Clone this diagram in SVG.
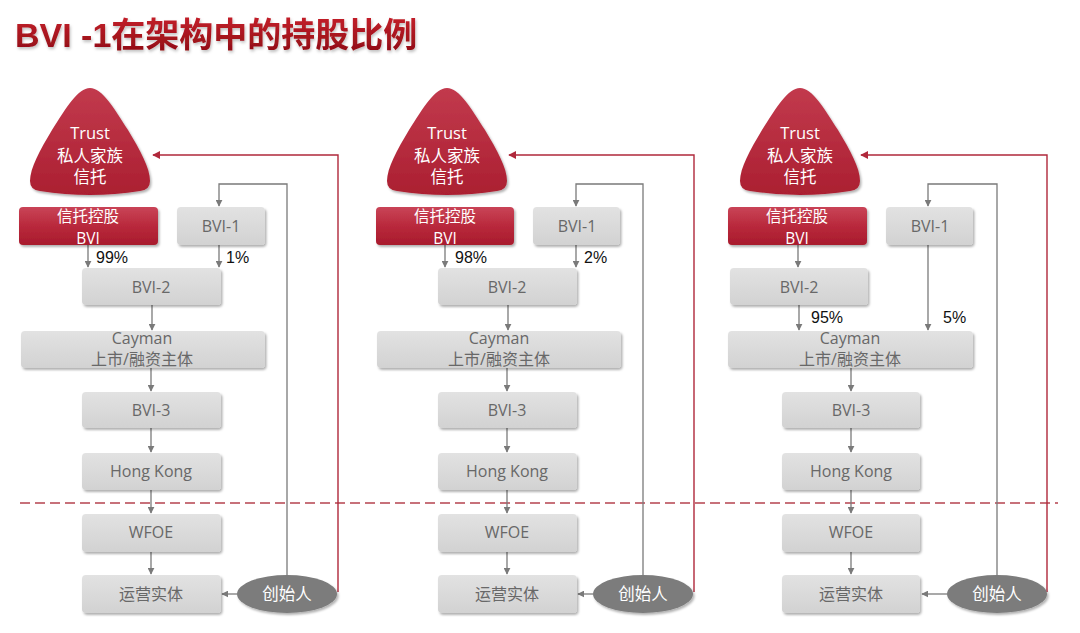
<svg xmlns="http://www.w3.org/2000/svg" width="1080" height="633" viewBox="0 0 1080 633">
<defs>
<linearGradient id="gGrey" x1="0" y1="0" x2="0" y2="1">
<stop offset="0" stop-color="#e2e2e2"/><stop offset="1" stop-color="#d2d2d2"/>
</linearGradient>
<linearGradient id="gRed" x1="0" y1="0" x2="0" y2="1">
<stop offset="0" stop-color="#c94457"/><stop offset="0.5" stop-color="#b9293c"/><stop offset="1" stop-color="#a81b2d"/>
</linearGradient>
<linearGradient id="gTri" x1="0" y1="0" x2="0" y2="1">
<stop offset="0" stop-color="#c23a4d"/><stop offset="1" stop-color="#ab1f31"/>
</linearGradient>
<linearGradient id="gTitle" x1="0" y1="0" x2="0" y2="1">
<stop offset="0" stop-color="#c4202a"/><stop offset="1" stop-color="#8e0d15"/>
</linearGradient>
<filter id="sh" x="-10%" y="-20%" width="125%" height="150%">
<feDropShadow dx="1.5" dy="2" stdDeviation="1.3" flood-color="#000" flood-opacity="0.3"/>
</filter>
<filter id="tsh" x="-5%" y="-20%" width="110%" height="160%">
<feDropShadow dx="1" dy="2" stdDeviation="1.5" flood-color="#000" flood-opacity="0.25"/>
</filter>
<marker id="ag" viewBox="0 0 10 10" refX="9" refY="5" markerWidth="7" markerHeight="7" markerUnits="userSpaceOnUse" orient="auto">
<path d="M0,0 L10,5 L0,10 Z" fill="#7a7a7a"/>
</marker>
<marker id="ar" viewBox="0 0 10 10" refX="9" refY="5" markerWidth="8" markerHeight="8" markerUnits="userSpaceOnUse" orient="auto">
<path d="M0,0 L10,5 L0,10 Z" fill="#b0283b"/>
</marker>
</defs>
<style>
.box{fill:url(#gGrey);filter:url(#sh)}
.rbox{fill:url(#gRed);filter:url(#sh)}
.tri{fill:url(#gTri);filter:url(#sh)}
.fo{fill:#7b7b7b;filter:url(#sh)}
.t{font-family:"Open Sans","Noto Sans CJK SC",sans-serif;font-size:16px;fill:#686868;text-anchor:middle}
.w{font-family:"Open Sans","Noto Sans CJK SC",sans-serif;font-size:16.5px;fill:#ffffff;text-anchor:middle}
.hw{font-family:"Open Sans","Noto Sans CJK SC",sans-serif;font-size:15.5px;fill:#ffffff;text-anchor:middle}
.p{font-family:"Liberation Sans",Arial,sans-serif;font-size:16px;fill:#111111}
.c{fill:none;stroke:#7a7a7a;stroke-width:1.3}
.r{fill:none;stroke:#b0283b;stroke-width:1.4}
.d{fill:none;stroke:#b5434f;stroke-width:1.3;stroke-dasharray:10 5}
.title{font-family:"Liberation Sans","Noto Sans CJK SC",sans-serif;font-size:34px;font-weight:bold;fill:url(#gTitle);filter:url(#tsh)}
</style>
<rect width="1080" height="633" fill="#ffffff"/>
<text class="title" x="15" y="47">BVI -1在架构中的持股比例</text>

<!-- connectors -->
<g id="connectors">
<line class="d" x1="20" y1="503" x2="1058" y2="503"/>
<!-- column 1 -->
<path class="c" marker-end="url(#ag)" d="M88,245 V267"/>
<path class="c" marker-end="url(#ag)" d="M219,245 V267"/>
<path class="c" marker-end="url(#ag)" d="M152,305 V330"/>
<path class="c" marker-end="url(#ag)" d="M151,368 V391"/>
<path class="c" marker-end="url(#ag)" d="M151,428 V452"/>
<path class="c" marker-end="url(#ag)" d="M151,490 V513"/>
<path class="c" marker-end="url(#ag)" d="M151,552 V574"/>
<path class="c" marker-end="url(#ag)" d="M237,594 H222"/>
<path class="c" marker-end="url(#ag)" d="M287,575 V184 H219 V206"/>
<path class="r" marker-end="url(#ar)" d="M338,592 V155 H153"/>
<!-- column 2 -->
<path class="c" marker-end="url(#ag)" d="M445,245 V267"/>
<path class="c" marker-end="url(#ag)" d="M576,245 V267"/>
<path class="c" marker-end="url(#ag)" d="M508,305 V330"/>
<path class="c" marker-end="url(#ag)" d="M507,368 V391"/>
<path class="c" marker-end="url(#ag)" d="M507,428 V452"/>
<path class="c" marker-end="url(#ag)" d="M507,490 V513"/>
<path class="c" marker-end="url(#ag)" d="M507,552 V574"/>
<path class="c" marker-end="url(#ag)" d="M593,594 H578"/>
<path class="c" marker-end="url(#ag)" d="M643,575 V184 H576 V206"/>
<path class="r" marker-end="url(#ar)" d="M694,592 V155 H509"/>
<!-- column 3 -->
<path class="c" marker-end="url(#ag)" d="M798,245 V267"/>
<path class="c" marker-end="url(#ag)" d="M799,305 V330"/>
<path class="c" marker-end="url(#ag)" d="M928,245 V330"/>
<path class="c" marker-end="url(#ag)" d="M851,368 V391"/>
<path class="c" marker-end="url(#ag)" d="M851,428 V452"/>
<path class="c" marker-end="url(#ag)" d="M851,490 V513"/>
<path class="c" marker-end="url(#ag)" d="M851,552 V574"/>
<path class="c" marker-end="url(#ag)" d="M947,594 H922"/>
<path class="c" marker-end="url(#ag)" d="M997,575 V184 H928 V206"/>
<path class="r" marker-end="url(#ar)" d="M1047,592 V155 H861"/>
<!-- percentages -->
<text class="p" x="96" y="263">99%</text>
<text class="p" x="226" y="263">1%</text>
<text class="p" x="455" y="263">98%</text>
<text class="p" x="584" y="263">2%</text>
<text class="p" x="811" y="323">95%</text>
<text class="p" x="943" y="323">5%</text>
</g>

<!-- column 1 nodes -->
<g id="trust1"><path class="tri" d="M90,88 C102,88 114,108 128,130 C140,150 150,168 150,181 Q150,190 140,191 Q90,199 40,191 Q30,190 30,181 C30,168 40,150 52,130 C66,108 78,88 90,88 Z"/>
<text class="w" x="90" y="139">Trust</text><text class="w" x="90" y="162">私人家族</text><text class="w" x="90" y="183">信托</text></g>
<g id="hold1"><rect class="rbox" x="19" y="207" width="139" height="38" rx="4"/>
<text class="hw" x="88" y="222">信托控股</text><text class="hw" x="88" y="244">BVI</text></g>
<g id="bvi1_1"><rect class="box" x="177" y="207" width="88" height="38" rx="4"/><text class="t" x="221" y="232">BVI-1</text></g>
<g id="bvi2_1"><rect class="box" x="82" y="268" width="139" height="37" rx="4"/><text class="t" x="151" y="293">BVI-2</text></g>
<g id="cayman1"><rect class="box" x="21" y="331" width="244" height="37" rx="4"/>
<text class="t" x="142" y="344">Cayman</text><text class="t" x="142" y="365">上市/融资主体</text></g>
<g id="bvi3_1"><rect class="box" x="82" y="392" width="139" height="36" rx="4"/><text class="t" x="151" y="416">BVI-3</text></g>
<g id="hk1"><rect class="box" x="82" y="453" width="139" height="37" rx="4"/><text class="t" x="151" y="477">Hong Kong</text></g>
<g id="wfoe1"><rect class="box" x="82" y="514" width="139" height="38" rx="4"/><text class="t" x="151" y="538">WFOE</text></g>
<g id="op1"><rect class="box" x="82" y="575" width="139" height="38" rx="4"/><text class="t" x="151" y="600">运营实体</text></g>
<g id="founder1"><ellipse class="fo" cx="287" cy="594" rx="50" ry="19"/><text class="w" x="287" y="600">创始人</text></g>

<!-- column 2 nodes -->
<g id="trust2"><path class="tri" d="M447,88 C459,88 471,108 485,130 C497,150 507,168 507,181 Q507,190 497,191 Q447,199 397,191 Q387,190 387,181 C387,168 397,150 409,130 C423,108 435,88 447,88 Z"/>
<text class="w" x="447" y="139">Trust</text><text class="w" x="447" y="162">私人家族</text><text class="w" x="447" y="183">信托</text></g>
<g id="hold2"><rect class="rbox" x="376" y="207" width="138" height="38" rx="4"/>
<text class="hw" x="445" y="222">信托控股</text><text class="hw" x="445" y="244">BVI</text></g>
<g id="bvi1_2"><rect class="box" x="533" y="207" width="87" height="38" rx="4"/><text class="t" x="577" y="232">BVI-1</text></g>
<g id="bvi2_2"><rect class="box" x="438" y="268" width="139" height="37" rx="4"/><text class="t" x="507" y="293">BVI-2</text></g>
<g id="cayman2"><rect class="box" x="377" y="331" width="244" height="37" rx="4"/>
<text class="t" x="499" y="344">Cayman</text><text class="t" x="499" y="365">上市/融资主体</text></g>
<g id="bvi3_2"><rect class="box" x="438" y="392" width="139" height="36" rx="4"/><text class="t" x="507" y="416">BVI-3</text></g>
<g id="hk2"><rect class="box" x="438" y="453" width="139" height="37" rx="4"/><text class="t" x="507" y="477">Hong Kong</text></g>
<g id="wfoe2"><rect class="box" x="438" y="514" width="139" height="38" rx="4"/><text class="t" x="507" y="538">WFOE</text></g>
<g id="op2"><rect class="box" x="438" y="575" width="139" height="38" rx="4"/><text class="t" x="507" y="600">运营实体</text></g>
<g id="founder2"><ellipse class="fo" cx="643" cy="594" rx="50" ry="19"/><text class="w" x="643" y="600">创始人</text></g>

<!-- column 3 nodes -->
<g id="trust3"><path class="tri" d="M800,88 C812,88 824,108 838,130 C850,150 860,168 860,181 Q860,190 850,191 Q800,199 750,191 Q740,190 740,181 C740,168 750,150 762,130 C776,108 788,88 800,88 Z"/>
<text class="w" x="800" y="139">Trust</text><text class="w" x="800" y="162">私人家族</text><text class="w" x="800" y="183">信托</text></g>
<g id="hold3"><rect class="rbox" x="728" y="207" width="139" height="38" rx="4"/>
<text class="hw" x="797" y="222">信托控股</text><text class="hw" x="797" y="244">BVI</text></g>
<g id="bvi1_3"><rect class="box" x="886" y="207" width="87" height="38" rx="4"/><text class="t" x="930" y="232">BVI-1</text></g>
<g id="bvi2_3"><rect class="box" x="730" y="268" width="138" height="37" rx="4"/><text class="t" x="799" y="293">BVI-2</text></g>
<g id="cayman3"><rect class="box" x="728" y="331" width="245" height="37" rx="4"/>
<text class="t" x="850" y="344">Cayman</text><text class="t" x="850" y="365">上市/融资主体</text></g>
<g id="bvi3_3"><rect class="box" x="782" y="392" width="138" height="36" rx="4"/><text class="t" x="851" y="416">BVI-3</text></g>
<g id="hk3"><rect class="box" x="782" y="453" width="138" height="37" rx="4"/><text class="t" x="851" y="477">Hong Kong</text></g>
<g id="wfoe3"><rect class="box" x="782" y="514" width="138" height="38" rx="4"/><text class="t" x="851" y="538">WFOE</text></g>
<g id="op3"><rect class="box" x="782" y="575" width="138" height="38" rx="4"/><text class="t" x="851" y="600">运营实体</text></g>
<g id="founder3"><ellipse class="fo" cx="997" cy="594" rx="50" ry="19"/><text class="w" x="997" y="600">创始人</text></g>
</svg>
